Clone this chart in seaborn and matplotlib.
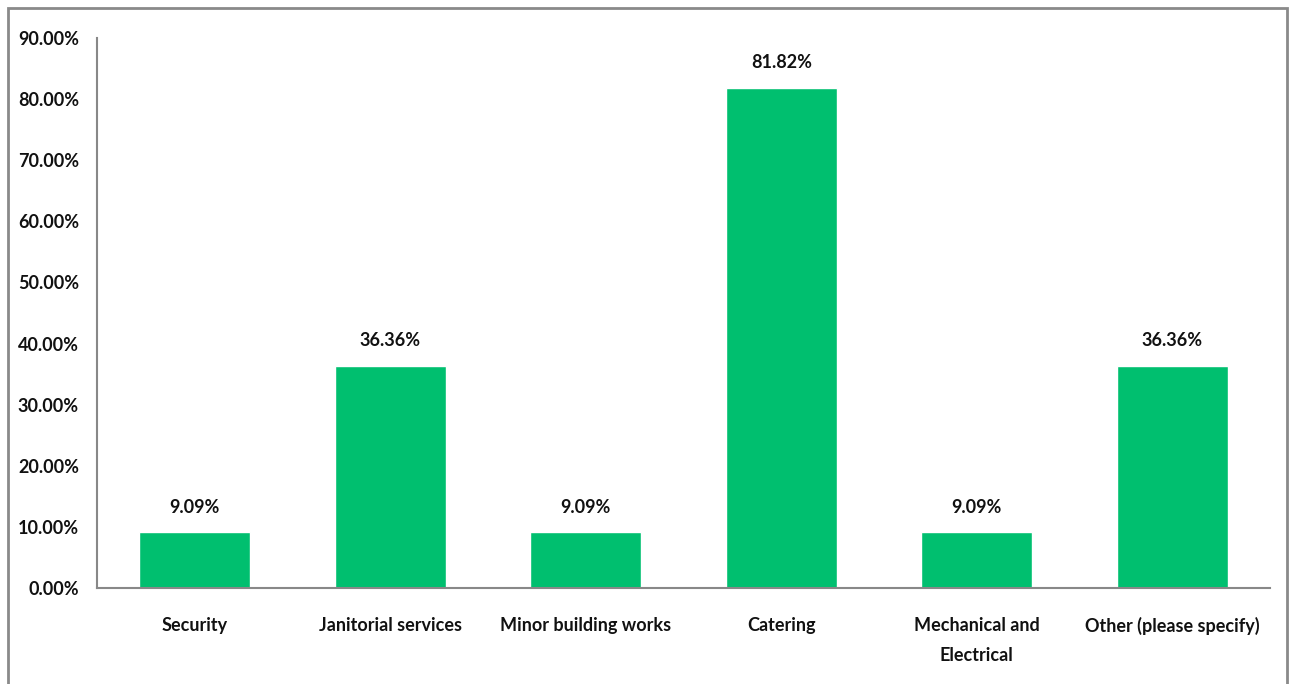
import matplotlib
matplotlib.use("Agg")
import matplotlib.pyplot as plt
import matplotlib.patches as mpatches
from matplotlib.ticker import FuncFormatter, MultipleLocator
import seaborn as sns
import pandas as pd

categories = ["Security", "Janitorial services", "Minor building works", "Catering",
              "Mechanical and\nElectrical", "Other (please specify)"]
values = [9.09, 36.36, 9.09, 81.82, 9.09, 36.36]
value_labels = ["9.09%", "36.36%", "9.09%", "81.82%", "9.09%", "36.36%"]

sns.set_style("white")
plt.rcParams['font.family'] = ['Lato', 'DejaVu Sans']

df = pd.DataFrame({"cat": categories, "val": values})

fig = plt.figure(figsize=(12.96, 6.84), dpi=100)
ax = fig.add_axes([97/1296, 1-588/684, (1270-97)/1296, (588-38)/684])
sns.barplot(data=df, x="cat", y="val", color="#00BF6F", width=0.57, ax=ax, saturation=1)

ax.set_ylim(0, 90)
ax.yaxis.set_major_locator(MultipleLocator(10))
ax.yaxis.set_major_formatter(FuncFormatter(lambda v, p: f"{v:.2f}%"))
ax.set_xlabel("")
ax.set_ylabel("")
for s in ["top", "right"]:
    ax.spines[s].set_visible(False)
for s in ["left", "bottom"]:
    ax.spines[s].set_color("#888888")
    ax.spines[s].set_linewidth(1.5)
ax.tick_params(axis="both", length=0, labelsize=13)
ax.tick_params(axis="x", pad=21)
ax.tick_params(axis="y", pad=13)
for lab in ax.get_xticklabels() + ax.get_yticklabels():
    lab.set_fontweight("bold")
    lab.set_color("#111111")
for lab in ax.get_xticklabels():
    lab.set_verticalalignment("top")
    lab.set_linespacing(1.95)

for i, (v, t) in enumerate(zip(values, value_labels)):
    ax.annotate(t, (i, v), xytext=(0, 12), textcoords="offset points",
                ha="center", va="bottom", fontsize=13, fontweight="bold", color="#111111")

border = mpatches.Rectangle((8/1296, -0.05), (1287-8)/1296, 1+0.05-8/684,
                            transform=fig.transFigure, fill=False,
                            edgecolor="#8a8a8a", linewidth=2, clip_on=False)
fig.patches.append(border)

fig.savefig("out.png", dpi=100)
